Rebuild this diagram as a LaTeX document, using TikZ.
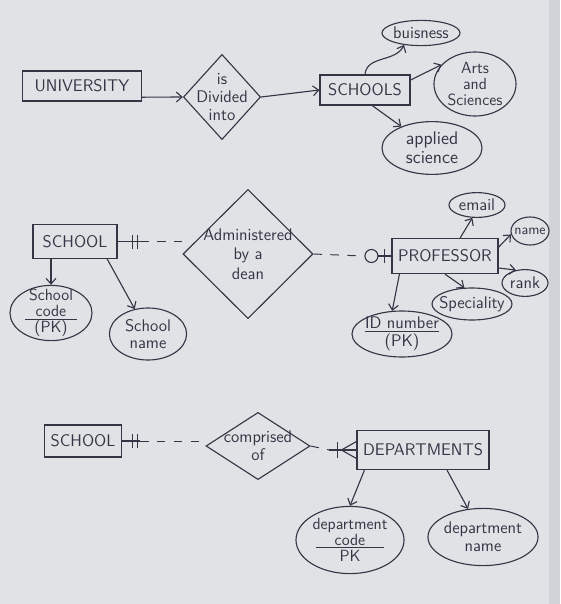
\documentclass[tikz,border=0pt]{standalone}
\usetikzlibrary{arrows.meta, positioning, shapes.geometric, calc}
\definecolor{paper}{RGB}{224,227,230}
\definecolor{edge}{RGB}{208,211,215}
\definecolor{ink}{RGB}{55,52,70}

\begin{document}
\begin{tikzpicture}[x=0.025cm, y=-0.025cm, >={Straight Barb[length=4pt, width=7pt]},
  every node/.style={font=\sffamily\fontsize{12}{12.5}\selectfont, text=ink},
  entity/.style={draw=ink, line width=0.8pt, inner sep=2pt},
  relation/.style={draw=ink, line width=0.8pt, diamond, inner sep=-10pt, align=center},
  attr/.style={draw=ink, line width=0.8pt, ellipse, inner sep=-6pt, align=center},
  tight/.style={font=\sffamily\fontsize{11.5}{11.5}\selectfont},
  link/.style={draw=ink, line width=0.8pt, ->},
  dashlink/.style={draw=ink, line width=0.7pt, dash pattern=on 6pt off 6pt},
  tick/.style={draw=ink, line width=0.8pt}]
  \fill[paper] (0,0) rectangle (560,604);
  \fill[edge] (549,0) rectangle (560,604);
  \useasboundingbox (0,0) rectangle (560,604);

  % university is divided into schools
  \node[entity, minimum width=2.98cm, minimum height=0.75cm] (uni) at (82,86) {UNIVERSITY};
  \node[relation, minimum width=1.93cm, minimum height=2.13cm] (div) at (222,97) {is\\Divided\\into};
  \node[entity, minimum width=2.25cm, minimum height=0.75cm] (schools) at (365,90) {SCHOOLS};
  \node[attr, minimum width=1.95cm, minimum height=0.63cm] (bus) at (421,33) {buisness};
  \node[attr, tight, minimum width=2.05cm, minimum height=1.6cm] (arts) at (475,84) {Arts\\and\\Sciences};
  \node[attr, minimum width=2.5cm, minimum height=1.32cm,
        font=\sffamily\fontsize{13}{13.5}\selectfont] (appl) at (432,148) {applied\\science};

  \draw[link] ([yshift=-0.28cm]uni.east) -- (div.west);
  \draw[link] (div.east) -- (schools.west);
  \draw[link] (schools.north) to[out=85, in=245] (bus.215);
  \draw[link] ([yshift=0.25cm]schools.east) -- (arts.150);
  \draw[link] ([xshift=0.18cm]schools.south) -- (appl.145);

  % school administered by a dean
  \node[entity, minimum width=2.1cm, minimum height=0.83cm] (school) at (75,241.5) {SCHOOL};
  \node[relation, minimum width=3.25cm, minimum height=3.23cm,
        font=\sffamily\fontsize{12}{14}\selectfont] (admin) at (248,254) {Administered\\by a\\dean};
  \node[entity, minimum width=2.65cm, minimum height=0.88cm] (prof) at (445,256) {PROFESSOR};
  \node[attr, minimum width=1.4cm, minimum height=0.62cm] (email) at (477,205) {email};
  \node[attr, minimum width=0.95cm, minimum height=0.7cm, font=\sffamily\normalsize] (pname) at (530,231) {name};
  \node[attr, minimum width=1.15cm, minimum height=0.67cm] (rank) at (525,283) {rank};
  \node[attr, minimum width=2.0cm, minimum height=0.8cm] (spec) at (472,304) {Speciality};
  \node[attr, minimum width=2.5cm, minimum height=1.15cm] (pid) at (402,334) {\underline{ID number}\\(PK)};
  \node[attr, tight, minimum width=2.05cm, minimum height=1.38cm] (scode) at (51,313)
    {School\\\underline{\makebox[1.3cm]{code}}\\(PK)};
  \node[attr, minimum width=1.93cm, minimum height=1.3cm] (sname) at (148,334) {School\\name};

  \coordinate (s1) at ($(school.east)+(23,0)$);
  \draw[tick] (school.east) -- (s1);
  \draw[tick] ($(school.east)+(15,-7)$) -- ++(0,14);
  \draw[tick] ($(school.east)+(20,-7)$) -- ++(0,14);
  \draw[dashlink] (s1) -- (s1 -| admin.west);
  \coordinate (p1) at ($(prof.west)+(-29,0)$);
  \draw[dashlink] (admin.east) -- (p1);
  \draw[tick] ($(prof.west)+(-20,0)$) circle (6.5);
  \draw[tick] ($(prof.west)+(-13.5,0)$) -- (prof.west);
  \draw[tick] ($(prof.west)+(-7,-7)$) -- ++(0,14);

  \draw[link] (scode.north |- school.south) -- (scode.north);
  \draw[link] ([xshift=0.8cm]school.south) -- (sname.118);
  \draw[link] ([xshift=0.38cm]prof.north) -- (email.250);
  \draw[link] ([yshift=0.22cm]prof.east) -- (pname.190);
  \draw[link] ([yshift=-0.3cm]prof.east) -- (rank.125);
  \draw[link] (prof.south) -- (spec.115);
  \draw[link] ([xshift=0.2cm]prof.south west) -- (pid.113);

  % school comprised of departments
  \node[entity, minimum width=1.93cm, minimum height=0.8cm] (school3) at (83,441) {SCHOOL};
  \node[relation, minimum width=2.6cm, minimum height=1.68cm] (comp) at (258,446) {comprised\\of};
  \node[entity, minimum width=3.3cm, minimum height=0.98cm] (dept) at (423,450) {DEPARTMENTS};
  \node[attr, minimum width=2.7cm, minimum height=1.68cm,
        font=\sffamily\fontsize{11.5}{11.5}\selectfont] (dcode) at (350,540)
    {department\\\underline{\makebox[1.7cm]{code}}\\PK};
  \node[attr, minimum width=2.75cm, minimum height=1.43cm] (dname) at (483,537) {department\\name};

  \coordinate (s3) at ($(school3.east)+(18,0)$);
  \draw[tick] (school3.east) -- (s3);
  \draw[tick] ($(school3.east)+(10,-7)$) -- ++(0,14);
  \draw[tick] ($(school3.east)+(15,-7)$) -- ++(0,14);
  \draw[dashlink] (s3) -- (s3 -| comp.west);
  \coordinate (d1) at ($(dept.west)+(-27,0)$);
  \coordinate (d2) at ($(dept.west)+(-15,0)$);
  \draw[dashlink] (comp.east) -- (d1);
  \draw[tick] (d1) -- (dept.west);
  \draw[tick] ($(dept.west)+(-19,-8)$) -- ++(0,16);
  \draw[tick] (d2) -- ($(dept.west)+(0,-8.5)$);
  \draw[tick] (d2) -- ($(dept.west)+(0,8.5)$);

  \draw[link] ([xshift=0.2cm]dept.south west) -- (dcode.north);
  \draw[link] ([xshift=0.6cm]dept.south) -- (dname.118);
\end{tikzpicture}
\end{document}
